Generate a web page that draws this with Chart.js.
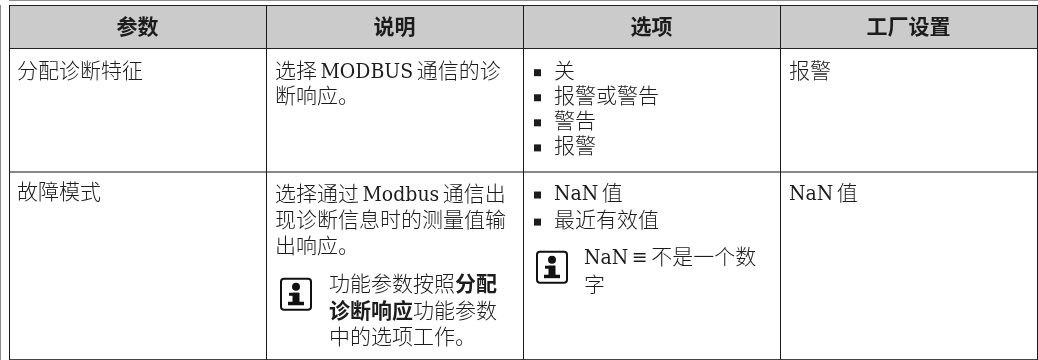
<!DOCTYPE html>
<html><head><meta charset="utf-8">
<style>html,body{margin:0;padding:0;background:#fff}canvas{display:block}</style>
<script src="https://cdn.jsdelivr.net/npm/chart.js@4"></script>
</head><body><canvas id="c" width="1038" height="360"></canvas>
<script>
const columns = ['参数','说明','选项','工厂设置'];
const rowEdges = [0, 43, 167, 354];
const row1Param = ['分配诊断特征'];
const row1Desc = ['选择 MODBUS 通信的诊','断响应。'];
const row1Options = ['关','报警或警告','警告','报警'];
const row1Default = ['报警'];
const row2Param = ['故障模式'];
const row2Desc = ['选择通过 Modbus 通信出','现诊断信息时的测量值输','出响应。'];
const row2Note = [[['功能参数按照',0],['分配',1]],[['诊断响应',1],['功能参数',0]],[['中的选项工作。',0]]];
const row2Options = ['NaN 值','最近有效值'];
const row2OptNote = ['NaN ≡ 不是一个数','字'];
const row2Default = ['NaN 值'];

const FAM = '"DejaVu Serif Condensed","Noto Sans CJK SC",serif';
const SIZE = 21, INK = '#1c1c1c';

const tablePlugin = {
  id:'tablePlugin',
  afterDraw(chart){
    const {ctx, scales:{x,y}} = chart;
    const colL = i => x.getPixelForValue(i) - (x.getPixelForValue(1)-x.getPixelForValue(0))/2;
    const colC = i => x.getPixelForValue(i);
    const Y = v => y.getPixelForValue(v);
    ctx.save();
    ctx.textBaseline='middle'; ctx.fillStyle=INK;
    ctx.wordSpacing='-2.5px';
    const line=(s,px,py,bold)=>{ctx.font=(bold?'bold ':'300 ')+SIZE+'px '+FAM;ctx.fillText(s,px,py);return ctx.measureText(s).width;};
    ctx.textAlign='center';
    columns.forEach((c,i)=>{ctx.font='bold '+SIZE+'px '+FAM;ctx.fillText(c,colC(i),Y(23));});
    ctx.textAlign='left';
    const block=(arr,dx,col,start,pitch)=>arr.forEach((s,i)=>line(s,colL(col)+dx,Y(start+i*pitch)));
    block(row1Param,8,0,67,25);
    block(row1Desc,9,1,67,25);
    block(row1Options,31,2,67,25);
    block(row1Default,9,3,67,25);
    block(row2Param,8,0,188,25);
    block(row2Desc,9,1,190,26);
    block(row2Options,31,2,189,27);
    block(row2Default,9,3,189,25);
    block(row2OptNote,61,2,253,28);
    row2Note.forEach((runs,i)=>{let px=colL(1)+63;runs.forEach(r=>{px+=line(r[0],px,Y(280+i*26.5),r[1]);});});
    const bullet=(col,v)=>{ctx.fillRect(colL(col)+11,Y(v)-3,7,7);};
    row1Options.forEach((_,i)=>bullet(2,67+i*25));
    row2Options.forEach((_,i)=>bullet(2,189+i*27));
    const icon=(px,py)=>{
      ctx.save();ctx.strokeStyle='#111';ctx.lineWidth=2;ctx.beginPath();ctx.roundRect(px+1,py+1,30,31,3);ctx.stroke();
      ctx.fillStyle='#111';ctx.beginPath();ctx.arc(px+16,py+9,4,0,7);ctx.fill();
      ctx.fillRect(px+9,py+15,10,3);ctx.fillRect(px+12.5,py+15,7,11);ctx.fillRect(px+8,py+24,16,3.5);
      ctx.restore();
    };
    icon(colL(1)+14,Y(272));
    icon(colL(2)+13,Y(245));
    ctx.restore();
  }
};

new Chart(document.getElementById('c'),{
  type:'bar',
  data:{labels:columns,datasets:[{data:columns.map(()=>[rowEdges[0],rowEdges[1]]),backgroundColor:'#cbcbcb',barPercentage:1,categoryPercentage:1,borderWidth:0}]},
  plugins:[tablePlugin],
  options:{
    responsive:false,animation:false,
    layout:{padding:{left:9,top:5,right:1,bottom:0}},
    plugins:{legend:{display:false},tooltip:{enabled:false},title:{display:false}},
    scales:{
      x:{type:'category',position:'bottom',offset:true,
        grid:{offset:true,drawTicks:false,color:'#1a1a1a',lineWidth:1,z:2},
        border:{display:true,color:'#1a1a1a'},ticks:{display:false}},
      y:{type:'linear',reverse:true,min:rowEdges[0],max:rowEdges[3],
        afterBuildTicks(a){a.ticks=rowEdges.map(v=>({value:v}));},
        grid:{drawTicks:false,z:1,
          color:c=>c.tick&&c.tick.value===rowEdges[2]?'#888':(c.tick&&c.tick.value===rowEdges[3]?'#444':'#222'),
          lineWidth:c=>c.tick&&(c.tick.value===rowEdges[2]||c.tick.value===rowEdges[3])?2:1},
        border:{display:true,color:'#1a1a1a'},ticks:{display:false}}
    }
  }
});
</script></body></html>
